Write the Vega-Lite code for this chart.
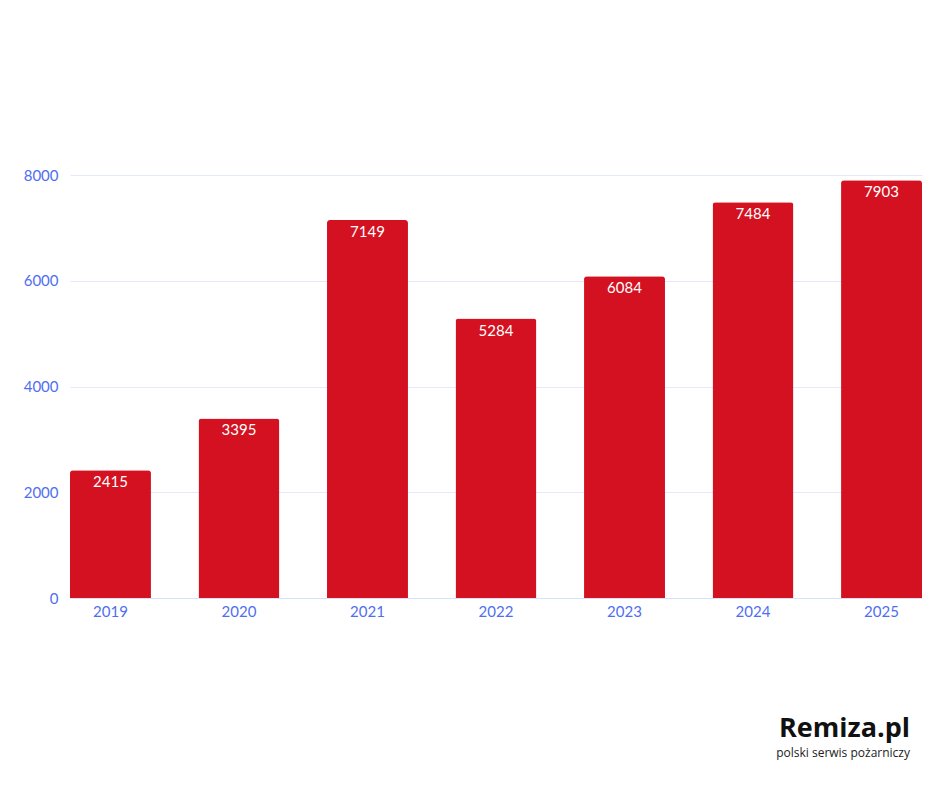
{
  "$schema": "https://vega.github.io/schema/vega-lite/v6.json",
  "width": 852,
  "height": 423,
  "autosize": {"type": "none"},
  "padding": {"left": 70, "top": 175, "right": 18, "bottom": 190},
  "background": "white",
  "data": {"values": [
    {"year": "2019", "value": 2415},
    {"year": "2020", "value": 3395},
    {"year": "2021", "value": 7149},
    {"year": "2022", "value": 5284},
    {"year": "2023", "value": 6084},
    {"year": "2024", "value": 7484},
    {"year": "2025", "value": 7903}
  ]},
  "title": {
    "text": "Remiza.pl",
    "subtitle": "polski serwis pożarniczy",
    "orient": "bottom",
    "anchor": "end",
    "offset": 97,
    "dx": -12,
    "font": "Open Sans",
    "fontSize": 27,
    "fontWeight": "bold",
    "color": "#111111",
    "subtitleFont": "Open Sans",
    "subtitleFontSize": 12,
    "subtitleColor": "#222222",
    "subtitlePadding": 5
  },
  "config": {
    "view": {"stroke": null},
    "font": "Lato"
  },
  "encoding": {
    "x": {
      "field": "year", "type": "ordinal",
      "scale": {"paddingInner": 0.37, "paddingOuter": 0},
      "axis": {"title": null, "labelAngle": 0, "ticks": false, "domain": true, "domainColor": "#d9e0fb",
               "labelColor": "#4f6ef2", "labelFontSize": 15, "labelPadding": 6, "labelFont": "Lato"}
    },
    "y": {
      "field": "value", "type": "quantitative",
      "scale": {"domain": [0, 8000]},
      "axis": {"title": null, "values": [0, 2000, 4000, 6000, 8000], "format": "d", "ticks": false, "domain": false,
               "gridColor": "#e3e8fb", "labelColor": "#4f6ef2", "labelFontSize": 15, "labelPadding": 12, "labelFont": "Lato"}
    }
  },
  "layer": [
    {"mark": {"type": "bar", "color": "#d31120", "cornerRadiusTopLeft": 3, "cornerRadiusTopRight": 3}},
    {"mark": {"type": "text", "color": "white", "baseline": "middle", "dy": 12, "fontSize": 15, "font": "Lato"},
     "encoding": {"text": {"field": "value", "type": "quantitative", "format": "d"}}}
  ]
}
